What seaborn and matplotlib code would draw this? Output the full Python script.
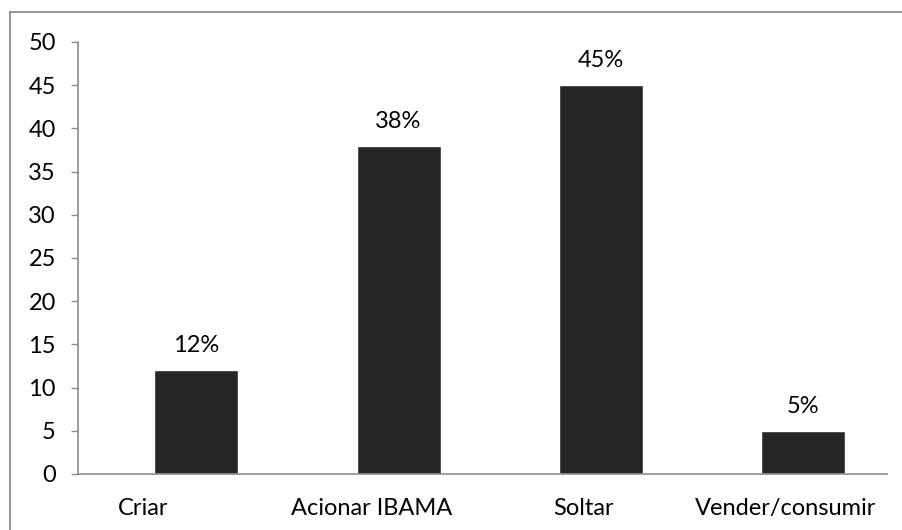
import numpy as np
import pandas as pd
import matplotlib
matplotlib.use("Agg")
import matplotlib.pyplot as plt
import matplotlib.transforms as mtransforms
from matplotlib.lines import Line2D
import seaborn as sns

categories = ["Criar", "Acionar IBAMA", "Soltar", "Vender/consumir"]
values = [12, 38, 45, 5]
value_labels = ["12%", "38%", "45%", "5%"]
y_ticks = [0, 5, 10, 15, 20, 25, 30, 35, 40, 45, 50]

sns.set_theme(style="white")
plt.rcParams["font.family"] = ["Lato", "DejaVu Sans"]

axis_grey = "#8c8c8c"
bar_color = "#262626"
font_size = 17

df = pd.DataFrame({"categoria": categories, "valor": values})

fig = plt.figure(figsize=(9.02, 5.30), dpi=100)
ax = fig.add_axes([0.0865, 0.1057, 0.8969, 0.8151])

sns.barplot(data=df, x="categoria", y="valor", color=bar_color,
            width=0.416, saturation=1, ax=ax)

# category slots sit slightly left of the bars
shift = 0.085
ax.set_xlim(-0.5 - shift, len(categories) - 0.5 - shift)
ax.set_ylim(0, 50)
ax.set_yticks(y_ticks)
ax.set_yticklabels([str(t) for t in y_ticks], fontsize=font_size, color="black")

bounds = np.arange(len(categories) + 1) - 0.5 - shift
ax.set_xticks(bounds[:-1] + 0.5)
ax.set_xticklabels(categories, fontsize=font_size, color="black")
ax.set_xticks(bounds, minor=True)
ax.tick_params(axis="x", which="major", length=0, pad=17)
ax.tick_params(axis="x", which="minor", length=4.5, width=1, color=axis_grey,
               direction="out")
ax.tick_params(axis="y", length=5, width=1, color=axis_grey, direction="out",
               pad=11, left=True)

# nudge the first two category names to the left
nudges_px = [-36, -10, 0, 0]
for lbl, dx in zip(ax.get_xticklabels(), nudges_px):
    lbl.set_transform(lbl.get_transform() +
                      mtransforms.ScaledTranslation(dx / 100, 0, fig.dpi_scale_trans))

for side in ["top", "right"]:
    ax.spines[side].set_visible(False)
for side in ["left", "bottom"]:
    ax.spines[side].set_color(axis_grey)
    ax.spines[side].set_linewidth(1.2)

ax.set_xlabel("")
ax.set_ylabel("")
ax.grid(False)

ax.bar_label(ax.containers[0], labels=value_labels, padding=10,
             fontsize=font_size, color="black")

# chart frame
frame_kw = dict(color=axis_grey, linewidth=1.3, transform=fig.transFigure)
fig.add_artist(Line2D([10 / 902, 1.0], [1 - 12 / 530, 1 - 12 / 530], **frame_kw))
fig.add_artist(Line2D([10 / 902, 10 / 902], [0.0, 1 - 12 / 530], **frame_kw))

fig.savefig("out.png", dpi=100)
